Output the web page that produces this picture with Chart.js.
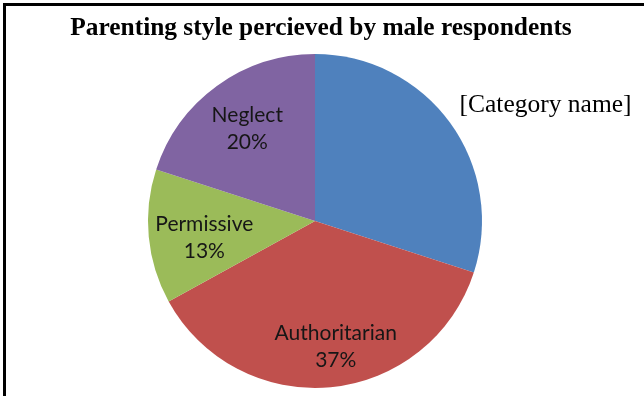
<!DOCTYPE html>
<html>
<head>
<meta charset="utf-8">
<script src="https://cdn.jsdelivr.net/npm/chart.js@4"></script>
<style>
  html, body { margin: 0; padding: 0; background: #ffffff; }
  #wrap { width: 644px; height: 396px; position: relative; }
</style>
</head>
<body>
<div id="wrap"><canvas id="c" width="644" height="396"></canvas></div>
<script>
const categories = ["[Category name]", "Authoritarian", "Permissive", "Neglect"];
const percentages = [30, 37, 13, 20];
const showValue = [false, true, true, true];
const chartTitle = "Parenting style percieved by male respondents";

const sliceColors = ["#4F81BD", "#C0504D", "#9BBB59", "#8064A2"];
// label placement style: radial factor and angle offset (degrees)
const labelPlace = [
  { r: 1.545, dA: 9.3 },
  { r: 0.76, dA: -4 },
  { r: 0.67, dA: -3 },
  { r: 0.69, dA: 0 }
];

const framePlugin = {
  id: 'frame',
  afterDraw(chart) {
    const ctx = chart.ctx;
    ctx.save();
    ctx.fillStyle = '#000';
    ctx.fillRect(3, 3, 641, 3);
    ctx.fillRect(3, 3, 3, 393);
    ctx.font = 'bold 25.4px "Liberation Serif"';
    ctx.textAlign = 'center';
    ctx.textBaseline = 'middle';
    ctx.fillText(chartTitle, 321, 28);
    ctx.restore();
  }
};

const labelPlugin = {
  id: 'sliceLabels',
  afterDatasetsDraw(chart) {
    const ctx = chart.ctx;
    const meta = chart.getDatasetMeta(0);
    ctx.save();
    ctx.textAlign = 'center';
    ctx.textBaseline = 'middle';
    meta.data.forEach((arc, i) => {
      const p = arc.getProps(['x', 'y', 'startAngle', 'endAngle', 'outerRadius'], true);
      const mid = (p.startAngle + p.endAngle) / 2 + labelPlace[i].dA * Math.PI / 180;
      const rr = p.outerRadius * labelPlace[i].r;
      const x = p.x + Math.cos(mid) * rr;
      const y = p.y + Math.sin(mid) * rr;
      if (showValue[i]) {
        ctx.fillStyle = '#161616';
        ctx.font = '21px Lato';
        ctx.fillText(categories[i], x, y - 13);
        ctx.fillText(percentages[i] + '%', x, y + 14);
      } else {
        ctx.fillStyle = '#000';
        ctx.font = '25.5px "Liberation Serif"';
        ctx.fillText(categories[i], x, y);
      }
    });
    ctx.restore();
  }
};

new Chart(document.getElementById('c'), {
  type: 'pie',
  data: {
    labels: categories,
    datasets: [{
      data: percentages,
      backgroundColor: sliceColors,
      borderWidth: 0
    }]
  },
  options: {
    responsive: false,
    animation: false,
    layout: { padding: { left: 0, right: 14, top: 54, bottom: 8 } },
    plugins: {
      legend: { display: false },
      tooltip: { enabled: false },
      title: { display: false }
    }
  },
  plugins: [framePlugin, labelPlugin]
});
</script>
</body>
</html>
